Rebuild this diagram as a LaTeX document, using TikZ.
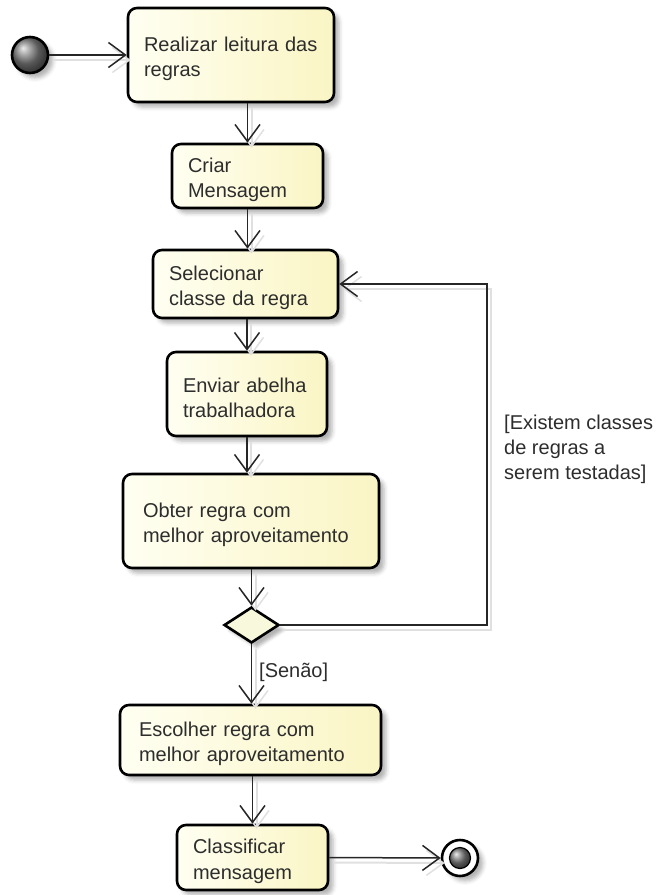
\documentclass[tikz,border=0pt]{standalone}
\usepackage{fontspec}
\setmainfont{Liberation Sans}
\usetikzlibrary{arrows.meta,shapes.geometric,shadows.blur}

\definecolor{boxleft}{RGB}{255,255,242}
\definecolor{boxright}{RGB}{250,245,196}
\definecolor{diafill}{RGB}{248,248,220}
\definecolor{inktext}{RGB}{45,45,45}

\tikzset{
  actbox/.style={draw=black, line width=2.6pt, rounded corners=9pt,
    left color=boxleft, right color=boxright,
    blur shadow={shadow xshift=5pt, shadow yshift=-5pt, shadow blur radius=4pt, shadow opacity=30},
    align=left, inner xsep=16pt, inner ysep=0pt, text=inktext,
    font=\fontsize{20}{25.5}\selectfont,
    execute at begin node={\rule{0pt}{22pt}}},
  flow/.style={draw=black!85, line width=1.5pt,
    -{Straight Barb[length=17pt,width=25pt,line width=1.5pt]},
    preaction={draw=black!12, line width=2pt, transform canvas={xshift=4pt,yshift=-5pt}}},
  guard/.style={text=inktext, font=\fontsize{20}{25}\selectfont, inner sep=0pt, align=left},
  startdot/.style={circle, draw=black, line width=2.6pt, minimum size=36pt, inner sep=0pt,
    shading=ball, ball color=black!50,
    blur shadow={shadow xshift=5pt, shadow yshift=-5pt, shadow blur radius=4pt, shadow opacity=30}},
}

\begin{document}
\begin{tikzpicture}[x=1pt, y=-1pt]
\useasboundingbox (0,0) rectangle (660,895);

% initial node
\node[startdot] (start) at (30,55) {};

% activities
\node[actbox, minimum width=206pt, minimum height=94pt, text width=174pt] (b1) at (231,55)
  {Realizar leitura das\\regras};
\node[actbox, minimum width=151pt, minimum height=64pt, text width=119pt] (b2) at (247.5,176)
  {Criar\\Mensagem};
\node[actbox, minimum width=185pt, minimum height=68pt, text width=153pt] (b3) at (245.5,284)
  {Selecionar\\classe da regra};
\node[actbox, minimum width=160pt, minimum height=84pt, text width=128pt] (b4) at (247,394)
  {Enviar abelha\\trabalhadora};
\node[actbox, minimum width=256pt, minimum height=94pt, text width=216pt, inner xsep=20pt] (b5) at (251,521)
  {Obter regra com\\melhor aproveitamento};

% decision
\node[diamond, draw=black, line width=2.6pt, fill=diafill, minimum width=55pt, minimum height=36pt,
  inner sep=0pt,
  blur shadow={shadow xshift=5pt, shadow yshift=-5pt, shadow blur radius=3pt, shadow opacity=30}]
  (dia) at (251.5,625) {};

\node[actbox, minimum width=261pt, minimum height=70pt, text width=223pt, inner xsep=19pt] (b6) at (250.5,740)
  {Escolher regra com\\melhor aproveitamento};
\node[actbox, minimum width=151pt, minimum height=65pt, text width=119pt] (b7) at (252.5,857.5)
  {Classificar\\mensagem};

% final node
\node[circle, draw=black, line width=2.6pt, fill=white, minimum size=36pt, inner sep=0pt,
  blur shadow={shadow xshift=5pt, shadow yshift=-5pt, shadow blur radius=4pt, shadow opacity=30}]
  (final) at (460,858) {};
\node[circle, draw=black, line width=1.2pt, minimum size=21pt, inner sep=0pt,
  shading=ball, ball color=black!50] (finalcore) at (final) {};

% loop-back column
\coordinate (loopx) at (487,0);

% control flow
\draw[flow] (start.east) -- (b1.west);
\draw[flow] (b1.south -| b2.north) -- (b2.north);
\draw[flow] (b2.south) -- (b2.south |- b3.north);
\draw[flow] (b3.south -| b4.north) -- (b4.north);
\draw[flow] (b4.south) -- (b4.south |- b5.north);
\draw[flow] (b5.south -| dia.north) -- (dia.north);
\draw[flow] (dia.south) -- (dia.south |- b6.north);
\draw[flow] (b6.south -| b7.north) -- (b7.north);
\draw[flow] (b7.east) -- (final.west);
\draw[flow] (dia.east) -- (dia.east -| loopx) -- (loopx |- b3.east) -- (b3.east);

% guards (base anchor sits on the last line)
\node[guard, anchor=base west] (gloop) at (504,479)
  {[Existem classes\\de regras a\\serem testadas]};
\node[guard, anchor=base west] (gelse) at (259,677) {[Senão]};
\end{tikzpicture}
\end{document}
